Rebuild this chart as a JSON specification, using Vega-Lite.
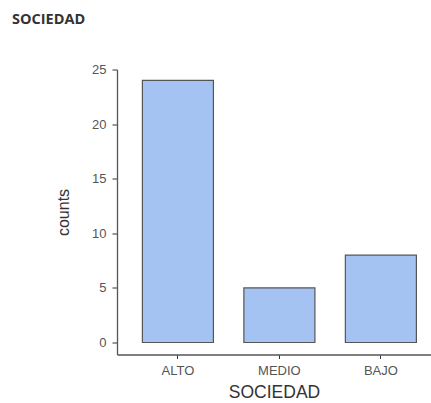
{
  "$schema": "https://vega.github.io/schema/vega-lite/v6.json",
  "width": 314,
  "height": 285,
  "autosize": {"type": "none"},
  "padding": {"left": 117, "top": 69.5, "right": 0, "bottom": 48.5},
  "background": "white",
  "title": {
    "text": "SOCIEDAD",
    "anchor": "start",
    "frame": "group",
    "dx": -105,
    "offset": 25,
    "baseline": "alphabetic",
    "font": "Open Sans",
    "fontSize": 14.5,
    "fontWeight": "bold",
    "color": "#333333"
  },
  "data": {
    "values": [
      {"SOCIEDAD": "ALTO", "counts": 24},
      {"SOCIEDAD": "MEDIO", "counts": 5},
      {"SOCIEDAD": "BAJO", "counts": 8}
    ]
  },
  "mark": {"type": "bar", "fill": "#a4c3f2", "stroke": "#555555", "strokeWidth": 1.2},
  "encoding": {
    "x": {
      "field": "SOCIEDAD",
      "type": "nominal",
      "sort": ["ALTO", "MEDIO", "BAJO"],
      "scale": {"paddingInner": 0.3, "paddingOuter": 0.197, "align": 0.635},
      "axis": {
        "labelAngle": 0,
        "labelFont": "Liberation Sans",
        "labelFontSize": 13,
        "labelColor": "#555555",
        "labelPadding": 6,
        "tickSize": 4,
        "tickColor": "#333333",
        "domainColor": "#555555",
        "domainWidth": 1.3,
        "titleFont": "Liberation Sans",
        "titleFontSize": 17.5,
        "titleFontWeight": "normal",
        "titleColor": "#333333",
        "titlePadding": 6
      }
    },
    "y": {
      "field": "counts",
      "type": "quantitative",
      "scale": {"domain": [-1.1, 25], "nice": false, "zero": false},
      "axis": {
        "values": [0, 5, 10, 15, 20, 25],
        "grid": false,
        "labelFont": "Liberation Sans",
        "labelFontSize": 13,
        "labelColor": "#555555",
        "labelPadding": 6,
        "tickSize": 5,
        "tickColor": "#333333",
        "domainColor": "#555555",
        "domainWidth": 1.3,
        "title": "counts",
        "titleFont": "Liberation Sans",
        "titleFontSize": 16,
        "titleFontWeight": "normal",
        "titleColor": "#333333",
        "titlePadding": 20
      }
    }
  },
  "config": {"view": {"stroke": null}}
}
